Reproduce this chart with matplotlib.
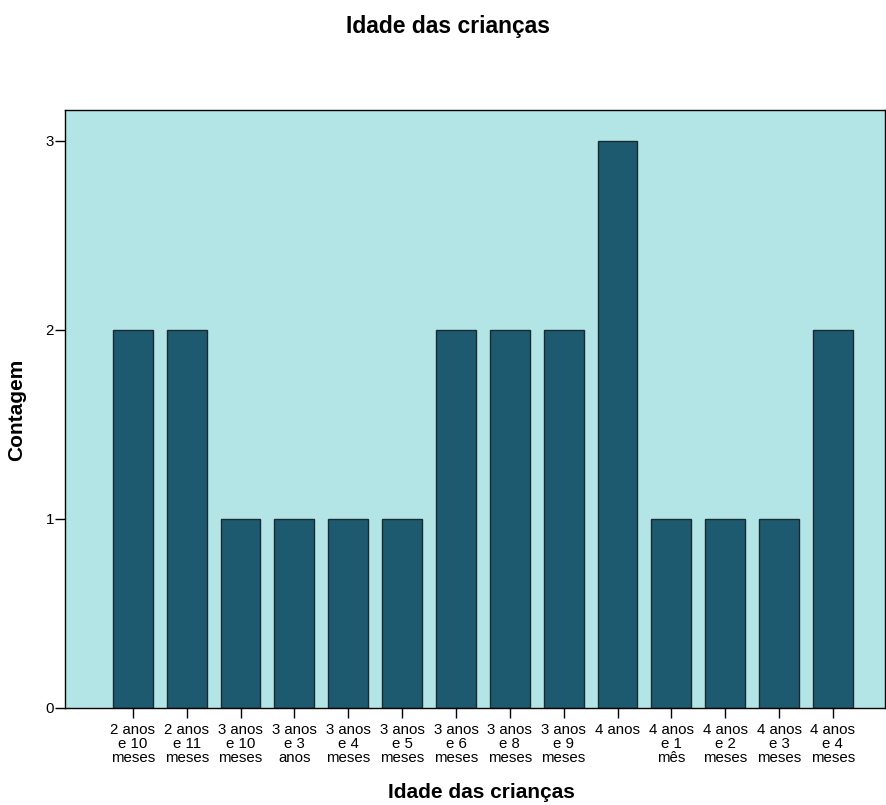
import matplotlib.pyplot as plt

plt.rcParams['font.family'] = ['Liberation Sans', 'DejaVu Sans']

categorias = ['2 anos\ne 10\nmeses', '2 anos\ne 11\nmeses', '3 anos\ne 10\nmeses',
              '3 anos\ne 3\nanos', '3 anos\ne 4\nmeses', '3 anos\ne 5\nmeses',
              '3 anos\ne 6\nmeses', '3 anos\ne 8\nmeses', '3 anos\ne 9\nmeses',
              '4 anos', '4 anos\ne 1\nmês', '4 anos\ne 2\nmeses',
              '4 anos\ne 3\nmeses', '4 anos\ne 4\nmeses']
contagem = [2, 2, 1, 1, 1, 1, 2, 2, 2, 3, 1, 1, 1, 2]

fig = plt.figure(figsize=(8.86, 8.05), dpi=100)
ax = fig.add_axes([0.0734, 0.1205, 0.925, 0.743])
ax.set_facecolor('#b3e5e6')

x = list(range(len(categorias)))
ax.bar(x, contagem, width=0.74, color='#1d5a70', edgecolor='#1a2a30', linewidth=1.0)

ax.set_xlim(-1.26, 13.96)
ax.set_ylim(0, 3.164)
ax.set_yticks([0, 1, 2, 3])
ax.set_xticks(x)
ax.set_xticklabels(categorias, fontsize=10.8, linespacing=1.0)
ax.tick_params(axis='both', length=7, width=1, labelsize=10.8)
ax.tick_params(axis='x', pad=4)
ax.tick_params(axis='y', pad=1)

for s in ax.spines.values():
    s.set_linewidth(1.0)

fig.text(17 / 886, 0.491, 'Contagem', rotation=90, ha='center', va='center',
         fontsize=15, fontweight='bold')
fig.text(481 / 886, 0.016, 'Idade das crianças', ha='center', va='center',
         fontsize=15, fontweight='bold')
fig.text(448 / 886, 0.967, 'Idade das crianças', ha='center', va='center',
         fontsize=16.5, fontweight='bold')

fig.savefig('out.png', dpi=100)
